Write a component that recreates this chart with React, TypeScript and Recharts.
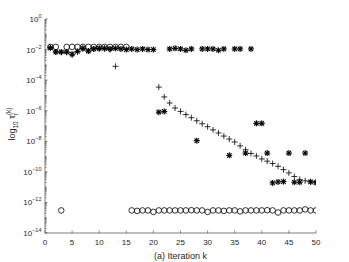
import { Scatter, ScatterChart, XAxis, YAxis } from "recharts";

// iteration index k = 1..50
const iterations = [
  1, 2, 3, 4, 5, 6, 7, 8, 9, 10, 11, 12, 13, 14, 15, 16, 17, 18, 19, 20, 21, 22, 23, 24, 25,
  26, 27, 28, 29, 30, 31, 32, 33, 34, 35, 36, 37, 38, 39, 40, 41, 42, 43, 44, 45, 46, 47, 48, 49, 50,
];

// 'o' series
const circleVals: (number | null)[] = [
  1.5e-2, 1.5e-2, 3e-13, 1.5e-2, 1.5e-2, 1.5e-2, 1.5e-2, 1.5e-2, 1.5e-2, 1.5e-2,
  1.5e-2, 1.5e-2, 1.5e-2, 1.5e-2, 1.5e-2, 3e-13, 2.8e-13, 3e-13, 3e-13, 2.4e-13,
  3e-13, 3e-13, 3e-13, 3e-13, 3e-13, 3e-13, 3.1e-13, 3e-13, 3e-13, 2.4e-13,
  3e-13, 3e-13, 2.8e-13, 3e-13, 3e-13, 2.6e-13, 3e-13, 3e-13, 3e-13, 3e-13,
  3.1e-13, 3e-13, 2.2e-13, 3e-13, 3e-13, 3e-13, 3e-13, 3.5e-13, 3e-13, 3e-13,
];

// '+' series
const plusVals: (number | null)[] = [
  1.3e-2, 7e-3, 6.5e-3, 6.5e-3, 4.5e-3, 7e-3, 1.1e-2, 8e-3, 1.1e-2, 1.1e-2,
  1.1e-2, 1.0e-2, 8e-4, null, null, null, null, null, null, null,
  3.5e-5, 8e-6, 3.2e-6, 1.5e-6, 9e-7, 5.6e-7, 3.5e-7, 2.2e-7, 1.4e-7, 9e-8,
  5.6e-8, 3.5e-8, 2.2e-8, 1.4e-8, 9e-9, 5e-9, 2.8e-9, 1.6e-9, 1.1e-9, 7e-10,
  5e-10, 3.5e-10, 2.3e-10, 1.4e-10, 8.5e-11, 5e-11, 3.2e-11, 2.6e-11, 2.3e-11, 2.2e-11,
];

// '*' series
const starVals: (number | null)[] = [
  1.3e-2, 7e-3, 7e-3, 7e-3, 5e-3, 7.5e-3, 1.2e-2, 8e-3, 1.1e-2, 1.2e-2,
  1.2e-2, 1.1e-2, 1.2e-2, 1.1e-2, 1.0e-2, 1.1e-2, 1.0e-2, 1.1e-2, 1.0e-2, 1.0e-2,
  8e-7, 9e-7, 1.1e-2, 1.2e-2, 1.1e-2, 9e-3, 1.1e-2, 1.1e-8, 1.1e-2, 1.1e-2,
  1.1e-2, 9e-3, 1.1e-2, 1.2e-9, 1.1e-2, 1.1e-2, 1.7e-9, 1.1e-2, 1.5e-7, 1.5e-7,
  1.7e-9, 1.9e-11, 2.2e-11, 2.3e-11, 1.7e-9, 2.1e-11, 2.1e-11, 1.7e-9, 2.2e-11, 2e-11,
];

const xTicks = [0, 5, 10, 15, 20, 25, 30, 35, 40, 45, 50];
const yMajorTicks = [1e-14, 1e-12, 1e-10, 1e-8, 1e-6, 1e-4, 1e-2, 1];

// minor ticks for each decade (MATLAB-style log axis)
const yAllTicks: number[] = [];
for (let d = -14; d <= 0; d++) {
  yAllTicks.push(Math.pow(10, d));
  if (d < 0) for (let m = 2; m <= 9; m++) yAllTicks.push(m * Math.pow(10, d));
}

const toPoints = (vals: (number | null)[]) =>
  iterations.map((k, i) => ({ k, v: vals[i] })).filter((p) => p.v != null);

const AX = "#262626";
const FONT = "'Liberation Sans', Arial, sans-serif";

const isMajor = (v: number) =>
  yMajorTicks.some((t) => Math.abs(v - t) < t * 1e-6);

const CircleMark = (p: any) => (
  <circle cx={p.cx} cy={p.cy} r={2.8} fill="none" stroke="#000" strokeWidth={0.8} />
);

const PlusMark = (p: any) => (
  <g stroke="#000" strokeWidth={0.8}>
    <line x1={p.cx - 3} y1={p.cy} x2={p.cx + 3} y2={p.cy} />
    <line x1={p.cx} y1={p.cy - 3} x2={p.cx} y2={p.cy + 3} />
  </g>
);

const StarMark = (p: any) => (
  <g stroke="#000" strokeWidth={1.1}>
    <line x1={p.cx - 3} y1={p.cy} x2={p.cx + 3} y2={p.cy} />
    <line x1={p.cx} y1={p.cy - 3} x2={p.cx} y2={p.cy + 3} />
    <line x1={p.cx - 2.2} y1={p.cy - 2.2} x2={p.cx + 2.2} y2={p.cy + 2.2} />
    <line x1={p.cx - 2.2} y1={p.cy + 2.2} x2={p.cx + 2.2} y2={p.cy - 2.2} />
  </g>
);

const BottomTick = ({ x, y, payload }: any) => (
  <g>
    <line x1={x} y1={y} x2={x} y2={y - 2.7} stroke={AX} strokeWidth={0.5} />
    <text x={x} y={y + 12} textAnchor="middle" fontSize={8} fill={AX} fontFamily={FONT}>
      {payload.value}
    </text>
  </g>
);

const TopTick = ({ x, y }: any) => (
  <line x1={x} y1={y} x2={x} y2={y + 2.7} stroke={AX} strokeWidth={0.5} />
);

const LeftTick = ({ x, y, payload }: any) => {
  const major = isMajor(payload.value);
  const exp = Math.round(Math.log10(payload.value));
  return (
    <g>
      <line x1={x} y1={y} x2={x + (major ? 2.7 : 1.6)} y2={y} stroke={AX} strokeWidth={0.5} />
      {major && (
        <text x={x - 3.5} y={y + 3} textAnchor="end" fontSize={8} fill={AX} fontFamily={FONT}>
          10
          <tspan fontSize={5.5} dy={-4}>
            {exp < 0 ? `\u2212${-exp}` : `${exp}`}
          </tspan>
        </text>
      )}
    </g>
  );
};

const RightTick = ({ x, y, payload }: any) => {
  const major = isMajor(payload.value);
  return (
    <line x1={x} y1={y} x2={x - (major ? 2.7 : 1.6)} y2={y} stroke={AX} strokeWidth={0.5} />
  );
};

const XLabel = ({ viewBox }: any) => (
  <text
    x={viewBox.x + viewBox.width / 2}
    y={viewBox.y + 26}
    textAnchor="middle"
    fontSize={9}
    fill={AX}
    fontFamily={FONT}
  >
    (a) Iteration k
  </text>
);

const YLabel = ({ viewBox }: any) => {
  const cx = 15;
  const cy = viewBox.y + viewBox.height / 2 - 2;
  return (
    <text
      x={cx}
      y={cy}
      transform={`rotate(-90, ${cx}, ${cy})`}
      textAnchor="middle"
      fontSize={9}
      fill={AX}
      fontFamily={FONT}
    >
      log
      <tspan fontSize={6.5} dy={2.5}>
        10
      </tspan>
      <tspan dy={-2.5}> τ</tspan>
      <tspan fontSize={6.5} dy={2.5}>
        r
      </tspan>
      <tspan fontSize={6.5} dx={-2} dy={-7}>
        (k)
      </tspan>
    </text>
  );
};

export default function App() {
  return (
    <div style={{ position: "absolute", left: 0, top: 0, background: "#fff" }}>
      <ScatterChart width={349} height={262} margin={{ top: 19, right: 33, bottom: 0, left: 0 }}>
        <XAxis
          xAxisId="b"
          dataKey="k"
          type="number"
          domain={[0, 50]}
          ticks={xTicks}
          interval={0}
          height={29}
          tickSize={0}
          tickMargin={0}
          tickLine={false}
          tick={<BottomTick />}
          stroke={AX}
          strokeWidth={0.6}
          label={<XLabel />}
          allowDataOverflow
        />
        <XAxis
          xAxisId="t"
          orientation="top"
          type="number"
          domain={[0, 50]}
          ticks={xTicks}
          interval={0}
          height={0}
          tickSize={0}
          tickMargin={0}
          tickLine={false}
          tick={<TopTick />}
          stroke={AX}
          strokeWidth={0.6}
          allowDataOverflow
        />
        <YAxis
          yAxisId="l"
          dataKey="v"
          type="number"
          scale="log"
          domain={[1e-14, 1]}
          ticks={yAllTicks}
          interval={0}
          width={45}
          tickSize={0}
          tickMargin={0}
          tickLine={false}
          tick={<LeftTick />}
          stroke={AX}
          strokeWidth={0.6}
          label={<YLabel />}
          allowDataOverflow
        />
        <YAxis
          yAxisId="r"
          orientation="right"
          type="number"
          scale="log"
          domain={[1e-14, 1]}
          ticks={yAllTicks}
          interval={0}
          width={0}
          tickSize={0}
          tickMargin={0}
          tickLine={false}
          tick={<RightTick />}
          stroke={AX}
          strokeWidth={0.6}
          allowDataOverflow
        />
        <Scatter
          xAxisId="b"
          yAxisId="l"
          data={toPoints(circleVals)}
          shape={<CircleMark />}
          isAnimationActive={false}
        />
        <Scatter
          xAxisId="b"
          yAxisId="l"
          data={toPoints(plusVals)}
          shape={<PlusMark />}
          isAnimationActive={false}
        />
        <Scatter
          xAxisId="b"
          yAxisId="l"
          data={toPoints(starVals)}
          shape={<StarMark />}
          isAnimationActive={false}
        />
      </ScatterChart>
    </div>
  );
}
